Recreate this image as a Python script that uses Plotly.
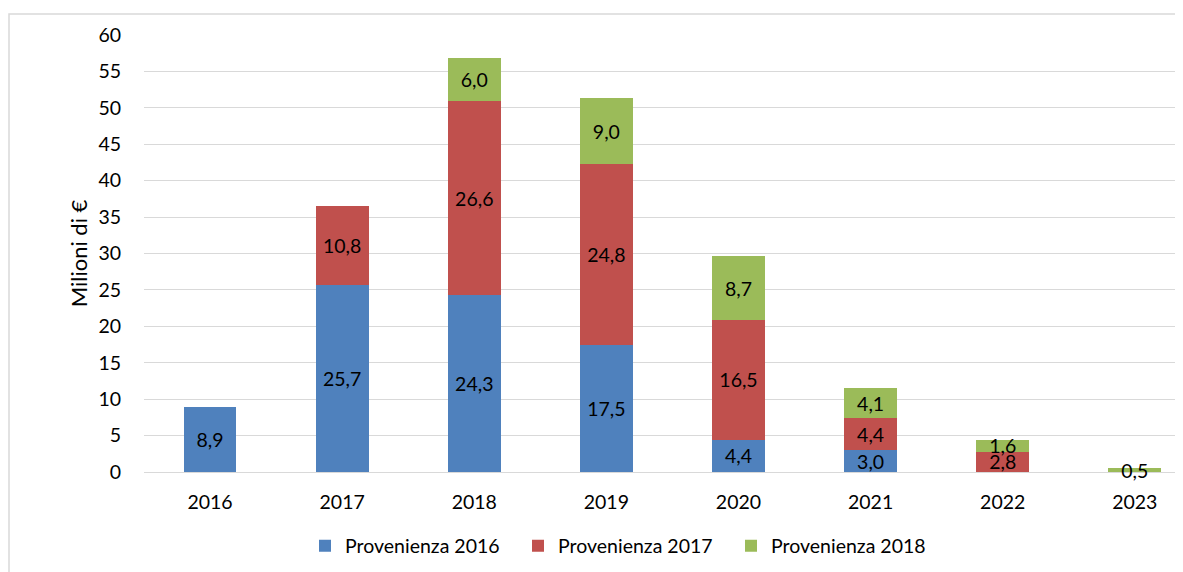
import plotly.graph_objects as go

years = ["2016", "2017", "2018", "2019", "2020", "2021", "2022", "2023"]
prov_2016 = [8.9, 25.7, 24.3, 17.5, 4.4, 3.0, 0, 0]
prov_2017 = [0, 10.8, 26.6, 24.8, 16.5, 4.4, 2.8, 0]
prov_2018 = [0, 0, 6.0, 9.0, 8.7, 4.1, 1.6, 0.5]
series_names = ["Provenienza 2016", "Provenienza 2017", "Provenienza 2018"]
colors = ["#4F81BD", "#C0504D", "#9BBB59"]
y_ticks = list(range(0, 61, 5))

FONT = "Lato"
FS = 19.5
OFF = 8  # default page body margin in the html

fig = go.Figure()
for name, vals, col in zip(series_names, [prov_2016, prov_2017, prov_2018], colors):
    fig.add_trace(go.Bar(
        x=years,
        y=[v if v else None for v in vals],
        name=name,
        marker=dict(color=col, line=dict(width=0)),
        text=[f"{v:.1f}".replace(".", ",") if v else "" for v in vals],
        textposition="inside",
        insidetextanchor="middle",
        constraintext="none",
        textangle=0,
        cliponaxis=False,
        textfont=dict(family=FONT, size=FS, color="black"),
        width=0.40,
        hoverinfo="skip",
    ))

# target plot area in page pixels: x 144..1183+, y 35..472
L, T = 144 - OFF, 35 - OFF
W, H = 1183, 572
B = H - (472 - OFF)
R = 0
pw = W - L - R
ph = H - T - B

def px_to_paper_x(px_page):
    return (px_page - OFF - L) / pw

def px_to_paper_y(py_page):
    return (H - B - (py_page - OFF)) / ph

fig.update_layout(
    barmode="stack",
    width=W, height=H,
    margin=dict(l=L, r=R, t=T, b=B, pad=0),
    paper_bgcolor="white",
    plot_bgcolor="white",
    font=dict(family=FONT, size=FS, color="black"),
    showlegend=True,
    legend=dict(
        orientation="h",
        x=px_to_paper_x(305), xanchor="left",
        y=px_to_paper_y(546), yanchor="middle",
        font=dict(family=FONT, size=FS, color="black"),
        entrywidth=168, entrywidthmode="pixels",
        traceorder="normal",
        itemclick=False, itemdoubleclick=False,
    ),
    xaxis=dict(
        range=[-0.5, -0.5 + (1183 - 144) / 131.1],
        showgrid=False,
        showline=False,
        ticks="",
        ticklabelstandoff=16,
        tickfont=dict(family=FONT, size=FS, color="black"),
        fixedrange=True,
    ),
    yaxis=dict(
        range=[0, 60],
        tickvals=y_ticks,
        showgrid=True,
        gridcolor="#D9D9D9",
        gridwidth=1.3,
        zeroline=True,
        zerolinecolor="#D9D9D9",
        zerolinewidth=1.3,
        showline=False,
        ticks="",
        ticklabelstandoff=22,
        tickfont=dict(family=FONT, size=FS, color="black"),
        title=dict(text="Milioni di €", font=dict(family=FONT, size=22, color="black"), standoff=4),
        fixedrange=True,
    ),
    shapes=[
        dict(type="rect", xref="paper", yref="paper",
             x0=px_to_paper_x(9), x1=px_to_paper_x(1300),
             y0=px_to_paper_y(700), y1=px_to_paper_y(14),
             line=dict(color="#D9D9D9", width=1.5), fillcolor="rgba(0,0,0,0)", layer="below"),
    ],
)

fig.write_html("out.html")
